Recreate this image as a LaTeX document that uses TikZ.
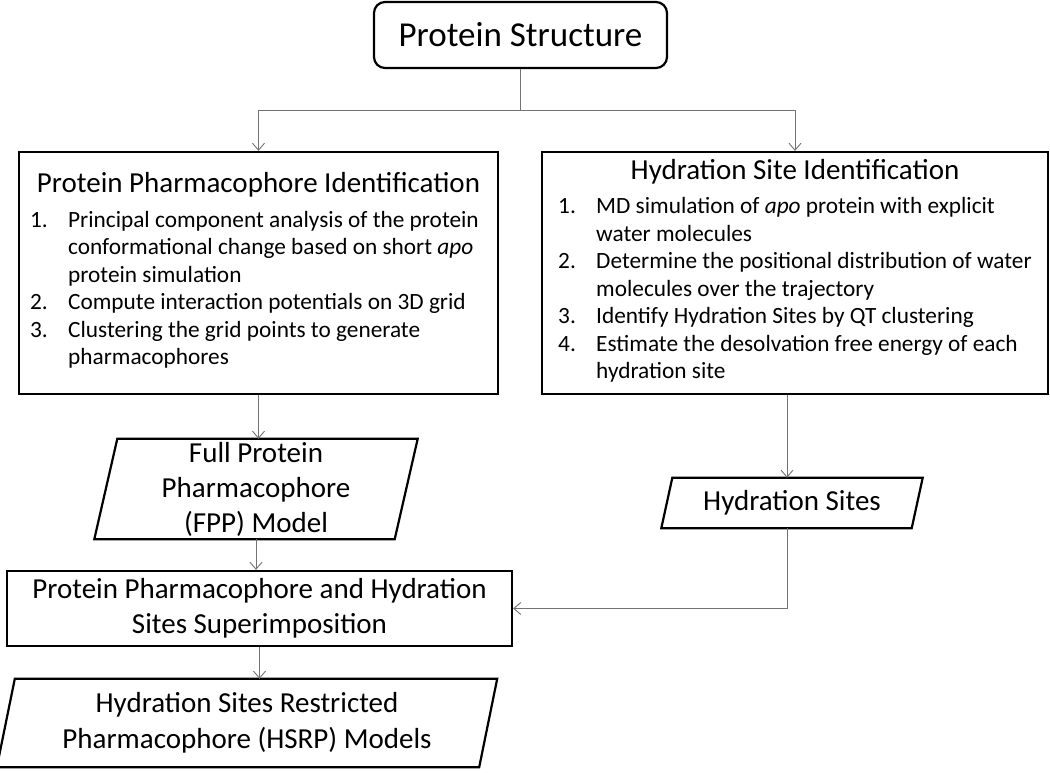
\documentclass[tikz,border=0pt]{standalone}
\usepackage{fontspec}
\setmainfont{Carlito}
\usetikzlibrary{arrows.meta}
\newcommand\paraoutline[2]{%
  \draw[boxline] ([xshift=#2]#1.north west) -- ([xshift=#2]#1.north east)
    -- ([xshift=-#2]#1.south east) -- ([xshift=-#2]#1.south west) -- cycle;}
\begin{document}
\begin{tikzpicture}[x=1pt,y=-1pt,
  boxline/.style={line width=2.2pt, line join=miter},
  box/.style={draw, boxline, inner sep=0pt, align=center},
  para/.style={inner sep=0pt, align=center},
  big/.style={font=\fontsize{29}{35}\selectfont},
  lst/.style={font=\fontsize{23.3}{27.5}\selectfont},
  link/.style={draw=black!55, line width=0.9pt},
  conn/.style={link, -{Straight Barb[length=7pt,width=12pt]}}]
\useasboundingbox (0,0) rectangle (1050,772);

\node[box, rounded corners=11pt, minimum width=293pt, minimum height=66pt,
      font=\fontsize{35}{42}\selectfont] (ps) at (520.5,35) {Protein Structure};

\node[box, lst, minimum width=479pt, minimum height=242pt] (ppi) at (258.5,273)
 {{\fontsize{29}{35}\selectfont Protein Pharmacophore Identification}\\[7pt]
  \begin{tabular}[t]{@{}p{38pt}@{}l@{}}
  1. & Principal component analysis of the protein\\
     & conformational change based on short \textit{apo}\\
     & protein simulation\\
  2. & Compute interaction potentials on 3D grid\\
  3. & Clustering the grid points to generate\\
     & pharmacophores
  \end{tabular}\hspace*{8pt}};

\node[box, lst, minimum width=506pt, minimum height=242pt] (hid) at (795,273)
 {{\fontsize{29}{35}\selectfont Hydration Site Identification}\\[7pt]
  \begin{tabular}[t]{@{}p{38pt}@{}l@{}}
  1. & MD simulation of \textit{apo} protein with explicit\\
     & water molecules\\
  2. & Determine the positional distribution of water\\
     & molecules over the trajectory\\
  3. & Identify Hydration Sites by QT clustering\\
  4. & Estimate the desolvation free energy of each\\
     & hydration site
  \end{tabular}};

\node[para, big, minimum width=300pt, minimum height=100pt] (fpp) at (256,489)
 {Full Protein\\Pharmacophore\\(FPP) Model};
\paraoutline{fpp}{11.5pt}

\node[para, big, minimum width=250pt, minimum height=50pt] (hs) at (792,503)
 {Hydration Sites};
\paraoutline{hs}{5.5pt}

\node[box, big, minimum width=505pt, minimum height=75pt] (sup) at (259.5,608.5)
 {Protein Pharmacophore and Hydration\\Sites Superimposition};

\node[para, font=\fontsize{29}{36}\selectfont, minimum width=482pt, minimum height=88pt] (hsrp) at (247,723)
 {Hydration Sites Restricted\\Pharmacophore (HSRP) Models};
\paraoutline{hsrp}{9pt}

\coordinate (split) at (520.5,110);
\draw[link] (ps.south) -- (split);
\draw[conn] (split) -| (ppi.north);
\draw[conn] (split) -| (hid.north);
\draw[conn] (ppi.south) -- (ppi.south |- fpp.north);
\draw[conn] (fpp.south) -- (fpp.south |- sup.north);
\draw[conn] (sup.south) -- (sup.south |- hsrp.north);
\draw[conn] ([xshift=-5pt]hs.north |- hid.south) -- ([xshift=-5pt]hs.north);
\draw[conn] ([xshift=-5pt]hs.south) |- (sup.east);
\end{tikzpicture}
\end{document}
